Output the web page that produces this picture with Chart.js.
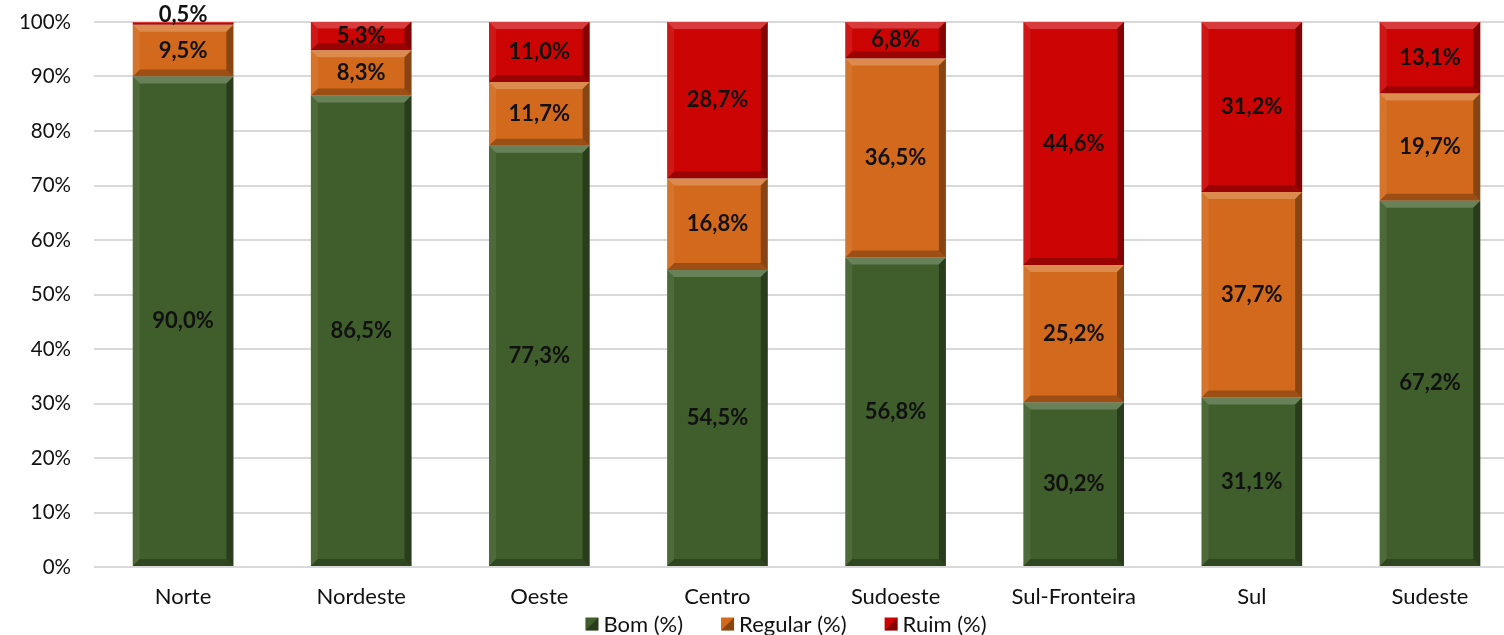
<!DOCTYPE html>
<html>
<head>
<meta charset="utf-8">
<script src="https://cdn.jsdelivr.net/npm/chart.js@4.4.1/dist/chart.umd.min.js"></script>
<style>
  html, body { margin: 0; padding: 0; background: #fff; overflow: hidden; }
  #wrap { width: 1519px; height: 635px; position: relative; }
</style>
</head>
<body>
<div id="wrap"><canvas id="c"></canvas></div>
<script>
const categories = ["Norte", "Nordeste", "Oeste", "Centro", "Sudoeste", "Sul-Fronteira", "Sul", "Sudeste"];
const bom = [90.0, 86.5, 77.3, 54.5, 56.8, 30.2, 31.1, 67.2];
const regular = [9.5, 8.3, 11.7, 16.8, 36.5, 25.2, 37.7, 19.7];
const ruim = [0.5, 5.3, 11.0, 28.7, 6.8, 44.6, 31.2, 13.1];
const yTicks = [0, 10, 20, 30, 40, 50, 60, 70, 80, 90, 100];

const FONT = "Lato, 'Liberation Sans', sans-serif";

function fmt(v) { return v.toFixed(1).replace('.', ',') + '%'; }

const labelPlugin = {
  id: 'segLabels',
  afterDatasetsDraw(chart) {
    const ctx = chart.ctx;
    ctx.save();
    ctx.font = "bold 22px " + FONT;
    ctx.fillStyle = '#111';
    ctx.textAlign = 'center';
    ctx.textBaseline = 'middle';
    chart.data.datasets.forEach((ds, di) => {
      const meta = chart.getDatasetMeta(di);
      meta.data.forEach((bar, i) => {
        const v = ds.data[i];
        const top = Math.min(bar.y, bar.base);
        const h = Math.abs(bar.base - bar.y);
        let y = top + h / 2;
        if (h < 14) y = top - 7;
        ctx.fillText(fmt(v), bar.x, y);
      });
    });
    ctx.restore();
  }
};

const bevelPlugin = {
  id: 'bevel',
  afterDatasetsDraw(chart) {
    const ctx = chart.ctx;
    ctx.save();
    chart.data.datasets.forEach((ds, di) => {
      const meta = chart.getDatasetMeta(di);
      meta.data.forEach((bar) => {
        const top = Math.min(bar.y, bar.base);
        const bot = Math.max(bar.y, bar.base);
        const h = bot - top;
        const l = bar.x - bar.width / 2, r = bar.x + bar.width / 2;
        const b = Math.min(7, h / 2);
        if (b < 1) return;
        ctx.fillStyle = 'rgba(255,255,255,0.22)';
        ctx.beginPath();
        ctx.moveTo(l, top); ctx.lineTo(r, top); ctx.lineTo(r - b, top + b); ctx.lineTo(l + b, top + b); ctx.closePath(); ctx.fill();
        ctx.fillStyle = 'rgba(0,0,0,0.35)';
        ctx.beginPath();
        ctx.moveTo(r, top); ctx.lineTo(r, bot); ctx.lineTo(r - b, bot - b); ctx.lineTo(r - b, top + b); ctx.closePath(); ctx.fill();
        ctx.fillStyle = 'rgba(0,0,0,0.25)';
        ctx.beginPath();
        ctx.moveTo(l, bot); ctx.lineTo(r, bot); ctx.lineTo(r - b, bot - b); ctx.lineTo(l + b, bot - b); ctx.closePath(); ctx.fill();
        ctx.fillStyle = 'rgba(255,255,255,0.08)';
        ctx.beginPath();
        ctx.moveTo(l, top); ctx.lineTo(l, bot); ctx.lineTo(l + b, bot - b); ctx.lineTo(l + b, top + b); ctx.closePath(); ctx.fill();
      });
    });
    ctx.restore();
  }
};

const legendPlugin = {
  id: 'customLegend',
  afterDraw(chart) {
    const ctx = chart.ctx;
    ctx.save();
    ctx.font = "22px " + FONT;
    ctx.textBaseline = 'middle';
    ctx.textAlign = 'left';
    const box = 13, gapText = 5, gapItem = 38;
    const items = chart.data.datasets.map(ds => ({ text: ds.label, color: ds.backgroundColor, w: ctx.measureText(ds.label).width }));
    const total = items.reduce((s, it) => s + box + gapText + it.w, 0) + gapItem * (items.length - 1);
    let x = 786 - total / 2;
    const y = 624;
    items.forEach(it => {
      ctx.fillStyle = it.color;
      ctx.fillRect(x, y - box / 2, box, box);
      ctx.fillStyle = 'rgba(0,0,0,0.35)';
      ctx.beginPath();
      ctx.moveTo(x + box, y - box / 2); ctx.lineTo(x + box, y + box / 2); ctx.lineTo(x, y + box / 2); ctx.closePath(); ctx.fill();
      ctx.fillStyle = '#111';
      ctx.fillText(it.text, x + box + gapText, y + 1);
      x += box + gapText + it.w + gapItem;
    });
    ctx.restore();
  }
};

new Chart(document.getElementById('c'), {
  type: 'bar',
  data: {
    labels: categories,
    datasets: [
      { label: 'Bom (%)', data: bom, backgroundColor: '#3F5E2B' },
      { label: 'Regular (%)', data: regular, backgroundColor: '#D2691C' },
      { label: 'Ruim (%)', data: ruim, backgroundColor: '#CC0404' }
    ]
  },
  options: {
    responsive: true,
    maintainAspectRatio: false,
    animation: false,
    layout: { padding: { top: 22, left: 0, right: 0, bottom: 24 } },
    datasets: { bar: { categoryPercentage: 1.0, barPercentage: 0.565 } },
    scales: {
      x: {
        stacked: true,
        grid: { display: false, drawTicks: false },
        border: { display: false },
        ticks: { color: '#111', font: { family: FONT, size: 22 }, padding: 17 },
        afterFit(s) { s.height = 44; }
      },
      y: {
        stacked: true,
        min: 0, max: 100,
        afterBuildTicks(s) { s.ticks = yTicks.map(v => ({ value: v })); },
        grid: { color: '#D9D9D9', lineWidth: 2, drawTicks: true, tickLength: 23, tickColor: 'rgba(0,0,0,0)' },
        border: { display: false },
        ticks: { color: '#111', font: { family: FONT, size: 20.5 }, padding: 0, callback: v => v + '%' },
        afterFit(s) { s.width = 94; }
      }
    },
    plugins: {
      legend: { display: false },
      tooltip: { enabled: false }
    }
  },
  plugins: [bevelPlugin, labelPlugin, legendPlugin]
});
</script>
</body>
</html>
